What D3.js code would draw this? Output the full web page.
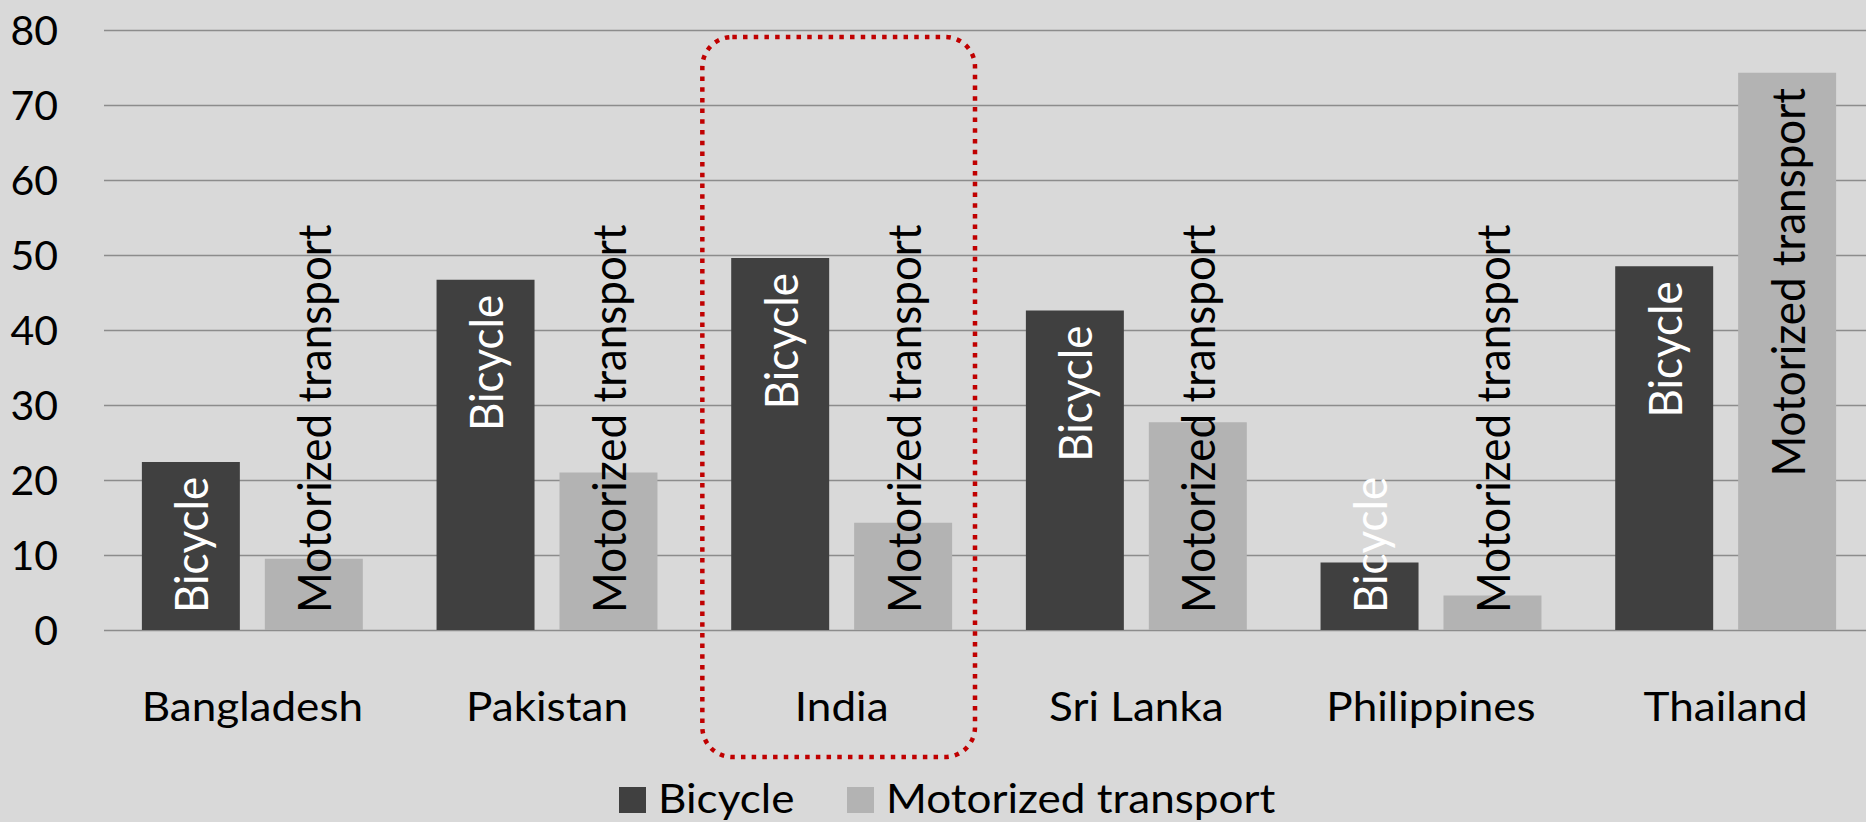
<!DOCTYPE html>
<html>
<head>
<meta charset="utf-8">
<title>Bicycle vs motorized transport</title>
<script src="https://d3js.org/d3.v7.min.js"></script>
<style>
  html, body { margin: 0; padding: 0; background: #d9d9d9; overflow: hidden; }
  text { font-family: Lato, "Open Sans", sans-serif; }
</style>
</head>
<body>
<div id="viz"></div>
<script>
// data
const categories = ['Bangladesh', 'Pakistan', 'India', 'Sri Lanka', 'Philippines', 'Thailand'];
const seriesNames = ['Bicycle', 'Motorized transport'];
const bicycle = [22.4, 46.7, 49.6, 42.6, 9.0, 48.5];
const motorized = [9.5, 21.0, 14.3, 27.7, 4.6, 74.3];
const yTicks = [0, 10, 20, 30, 40, 50, 60, 70, 80];
const highlight = 'India';

let width = 1866,
    height = 822;
const colors = { 'Bicycle': '#404040', 'Motorized transport': '#b3b3b3' };
const labelColors = { 'Bicycle': '#ffffff', 'Motorized transport': '#000000' };
const SX = 1.075; // the original chart is a bit wider than the font

let svg = d3.select('#viz').append('svg')
    .attr('width', width)
    .attr('height', height)
    .style('display', 'block')
    .style('background', '#d9d9d9');

let x = d3.scaleBand()
    .domain(categories)
    .range([105, 1873]);

let xs = d3.scaleBand()
    .domain(seriesNames)
    .range([0, x.bandwidth()])
    .paddingInner(0.203)
    .paddingOuter(0.3);

let y = d3.scaleLinear()
    .domain([0, 80])
    .range([630, 30]);

// gridlines + y labels
let yAxis = svg.append('g')
    .attr('transform', 'translate(104,0)')
    .call(d3.axisLeft(y).tickValues(yTicks).tickSize(-(width - 104)).tickPadding(0));
yAxis.select('.domain').remove();
yAxis.selectAll('line').attr('stroke', '#8c8c8c').attr('stroke-width', 1.5);
yAxis.selectAll('text')
    .attr('x', -46)
    .attr('dy', '0.36em')
    .style('font-size', '41px')
    .attr('fill', '#000');

let data = categories.map((c, i) => ({ cat: c, values: [
    { key: 'Bicycle', value: bicycle[i] },
    { key: 'Motorized transport', value: motorized[i] }
]}));

let group = svg.selectAll('.bar-group')
    .data(data)
    .enter()
    .append('g')
    .attr('class', 'bar-group')
    .attr('transform', d => `translate(${x(d.cat)},0)`);

group.selectAll('rect')
    .data(d => d.values)
    .enter()
    .append('rect')
    .attr('x', d => xs(d.key))
    .attr('y', d => y(d.value))
    .attr('width', xs.bandwidth())
    .attr('height', d => y(0) - y(d.value))
    .attr('fill', d => colors[d.key]);

// rotated labels inside the bars (inside end, kept above the base)
let lab = group.selectAll('.bar-label')
    .data(d => d.values)
    .enter()
    .append('g')
    .attr('class', 'bar-label');
lab.append('text')
    .attr('dy', '0.37em')
    .style('font-size', '44px')
    .attr('fill', d => labelColors[d.key])
    .text(d => d.key);
lab.attr('transform', function(d) {
    let len = this.querySelector('text').getComputedTextLength();
    let bottom = Math.min(y(d.value) + 15 + len, y(0) - 17);
    let cx = xs(d.key) + xs.bandwidth() / 2;
    return `translate(${cx},${bottom}) scale(${SX},1) rotate(-90)`;
});

// category labels
let xAxis = svg.append('g')
    .attr('transform', `translate(0,${y(0)})`)
    .call(d3.axisBottom(x).tickSize(0));
xAxis.select('.domain').remove();
xAxis.selectAll('text')
    .attr('y', 91)
    .attr('dy', 0)
    .attr('transform', `scale(${SX},1)`)
    .style('font-size', '41px')
    .attr('fill', '#000');

// red dotted box around the highlighted country
svg.append('rect')
    .attr('x', x(highlight) + 8)
    .attr('y', 37)
    .attr('width', x.bandwidth() - 22)
    .attr('height', 720)
    .attr('rx', 30)
    .attr('fill', 'none')
    .attr('stroke', '#c00000')
    .attr('stroke-width', 4.5)
    .attr('stroke-dasharray', '4.5,6.2');

// legend
let legendX = [619, 847];
let leg = svg.selectAll('.legend')
    .data(seriesNames)
    .enter()
    .append('g')
    .attr('class', 'legend')
    .attr('transform', (d, i) => `translate(${legendX[i]},0)`);
leg.append('rect')
    .attr('x', 0)
    .attr('y', 787)
    .attr('width', 27)
    .attr('height', 26)
    .attr('fill', d => colors[d]);
leg.append('g')
    .attr('transform', `translate(39,813) scale(${SX},1)`)
    .append('text')
    .style('font-size', '41px')
    .attr('fill', '#000')
    .text(d => d);
</script>
</body>
</html>
